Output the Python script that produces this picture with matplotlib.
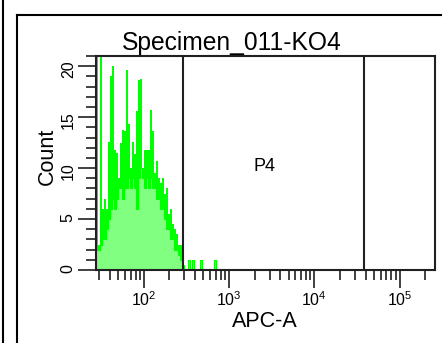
import numpy as np
import matplotlib
matplotlib.use('Agg')
import matplotlib.pyplot as plt
from matplotlib.lines import Line2D
from matplotlib.ticker import FixedLocator, MultipleLocator, FuncFormatter, LogLocator, NullFormatter

plt.rcParams['font.family'] = ['Liberation Sans', 'DejaVu Sans']
plt.rcParams['mathtext.fontset'] = 'custom'
plt.rcParams['mathtext.rm'] = 'Liberation Sans'

title = 'Specimen_011-KO4'
x_label = 'APC-A'
y_label = 'Count'
gate_name = 'P4'
gate_bounds = [290, 38000]
x_range = (27.5, 260000)
y_range = (0, 21)
bins_per_range = 170   # log bins across the displayed range

# histogram, one value per bin from the left edge
# fill = light green body, peak = top of the bright green spikes
fill_counts = [2, 2, 2.5, 3, 3, 4, 5, 6, 7, 6,
               7, 8, 8, 7, 8, 8, 9, 8, 9, 8,
               6, 9, 10, 9, 8, 9, 8, 9, 8, 8,
               7, 7, 6, 6, 5, 4, 4, 3, 3, 2,
               2, 1.5, 1, 0.5, 0, 0, 1, 0, 1, 0,
               0, 0, 1, 0, 0, 0, 0, 0, 0, 1]
peak_counts = [22, 2.5, 22, 6, 7, 6, 12.6, 19, 20, 11.8,
               11.5, 9, 12.5, 13.7, 13.6, 19.6, 14.3, 10, 12.6, 11.4,
               15.6, 18.6, 18.7, 10, 11.8, 11.8, 11.8, 15.7, 13.6, 9.5,
               10.7, 9, 8.5, 9, 7.5, 8, 5.5, 6, 4.5, 4,
               3.5, 2.5, 2.5, 1, 0, 0, 1, 0, 1, 0,
               0, 0, 1, 0, 0, 0, 0, 0, 0, 1]

bright = '#00ff00'
light = '#80ff80'

fig = plt.figure(figsize=(4.42, 3.43), dpi=100)
W, H = 442, 343
ax = fig.add_axes([96 / W, 1 - 270 / H, 339 / W, 214 / H])

n = len(fill_counts)
edges = x_range[0] * (x_range[1] / x_range[0]) ** (np.arange(n + 1) / bins_per_range)
fill = np.array(fill_counts, dtype=float)
peak = np.array(peak_counts, dtype=float)

ax.stairs(fill, edges, fill=True, color=light, lw=0)
ax.bar(edges[:-1], peak - fill, width=np.diff(edges), bottom=fill, align='edge',
       color=bright, linewidth=0)
ax.stairs(fill, edges, color=bright, lw=0.8)

for g in gate_bounds:
    ax.axvline(g, color='#202020', lw=1.5)
ax.text(2600, 9.7, gate_name, ha='center', va='baseline', fontsize=13)

ax.set_xscale('log')
ax.set_xlim(*x_range)
ax.set_ylim(*y_range)

ax.xaxis.set_major_locator(FixedLocator([1e2, 1e3, 1e4, 1e5]))
ax.xaxis.set_minor_locator(LogLocator(base=10, subs=np.arange(2, 10), numticks=20))
ax.xaxis.set_minor_formatter(NullFormatter())
ax.xaxis.set_major_formatter(FuncFormatter(
    lambda v, p: r'$\mathregular{10^{%d}}$' % round(np.log10(v))))
ax.yaxis.set_major_locator(MultipleLocator(5))
ax.yaxis.set_minor_locator(MultipleLocator(1))

ax.tick_params(which='both', direction='out', color='#202020', width=1.2,
               labelsize=11.5, pad=1.5)
ax.tick_params(which='major', length=13)
ax.tick_params(which='minor', length=7)
ax.tick_params(axis='y', labelrotation=90)
for s in ax.spines.values():
    s.set_linewidth(1.5)
    s.set_color('#202020')

fig.text(232 / W, 1 - 50 / H, title, ha='center', va='baseline', fontsize=17.7)
fig.text(265 / W, 1 - 327 / H, x_label, ha='center', va='baseline', fontsize=15.5)
fig.text(47 / W, 1 - 156 / H, y_label, ha='center', va='center', rotation=90, fontsize=15.5)

# outer frame of the panel
fig.add_artist(Line2D([2.5 / W, 2.5 / W], [0, 1], color='black', lw=1.5))
fig.add_artist(Line2D([16.5 / W, 16.5 / W], [0, 1 - 15 / H], color='black', lw=1.5))
fig.add_artist(Line2D([16.5 / W, 1], [1 - 15 / H, 1 - 15 / H], color='black', lw=1.5))

fig.savefig('out.png', dpi=100)
